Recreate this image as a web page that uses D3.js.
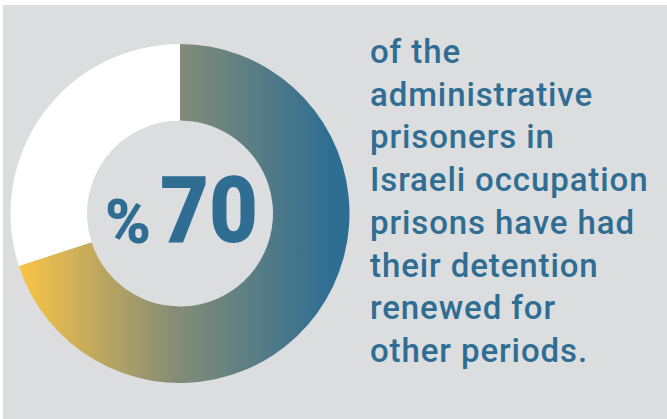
<!DOCTYPE html>
<html>
<head>
<meta charset="utf-8">
<script src="https://cdn.jsdelivr.net/npm/d3@7"></script>
<style>
  html, body { margin: 0; padding: 0; background: #fff; }
  svg { display: block; }
</style>
</head>
<body>
<div id="chart"></div>
<script>
const width = 667;
const height = 419;

// share of administrative prisoners whose detention was renewed
const segments = ["renewed", "rest"];
const shares = [70, 30];
const bigNumber = "70";
const caption = [
    "of the",
    "administrative",
    "prisoners in",
    "Israeli occupation",
    "prisons have had",
    "their detention",
    "renewed for",
    "other periods."
];

const blue = "#2f6d93";

const svg = d3.select("#chart")
    .append("svg")
    .attr("width", width)
    .attr("height", height);

svg.append("rect")
    .attr("x", 3)
    .attr("y", 5)
    .attr("width", width - 3)
    .attr("height", height - 5)
    .attr("fill", "#dcdddf");

const cx = 180, cy = 213.5;

// horizontal gradient, in the ring's own (translated) coordinates
const grad = svg.append("defs").append("linearGradient")
    .attr("id", "ringGrad")
    .attr("gradientUnits", "userSpaceOnUse")
    .attr("x1", 18 - cx).attr("y1", 0)
    .attr("x2", 330 - cx).attr("y2", 0);
grad.append("stop").attr("offset", "0%").attr("stop-color", "#fbc446");
grad.append("stop").attr("offset", "50%").attr("stop-color", "#868d76");
grad.append("stop").attr("offset", "100%").attr("stop-color", "#2f6e93");

const pie = d3.pie().sort(null).value(d => d);
const arc = d3.arc().innerRadius(93).outerRadius(169.5);

const fills = d3.scaleOrdinal()
    .domain(segments)
    .range(["url(#ringGrad)", "#ffffff"]);

svg.append("g")
    .attr("transform", `translate(${cx},${cy})`)
    .selectAll("path")
    .data(pie(shares))
    .enter().append("path")
    .attr("d", arc)
    .attr("fill", (d, i) => fills(segments[i]));

// centre label: small % then big number
const label = svg.append("g")
    .attr("fill", blue)
    .attr("font-family", "Roboto, 'DejaVu Sans', sans-serif")
    .attr("font-weight", 900);

label.append("text")
    .attr("x", 105)
    .attr("y", 243)
    .attr("font-size", 62)
    .attr("textLength", 46)
    .attr("lengthAdjust", "spacingAndGlyphs")
    .text("%");

label.append("text")
    .attr("x", 160)
    .attr("y", 242)
    .attr("font-size", 93)
    .attr("textLength", 98)
    .attr("lengthAdjust", "spacingAndGlyphs")
    .text(bigNumber);

// caption on the right
const y = d3.scaleLinear().domain([0, caption.length - 1]).range([63, 362]);

svg.append("g")
    .attr("fill", blue)
    .attr("font-family", "Roboto, 'DejaVu Sans', sans-serif")
    .attr("font-size", 33)
    .attr("font-weight", 500)
    .attr("letter-spacing", 0.9)
    .selectAll("text")
    .data(caption)
    .enter().append("text")
    .attr("x", 370)
    .attr("y", (d, i) => y(i))
    .text(d => d);
</script>
</body>
</html>
